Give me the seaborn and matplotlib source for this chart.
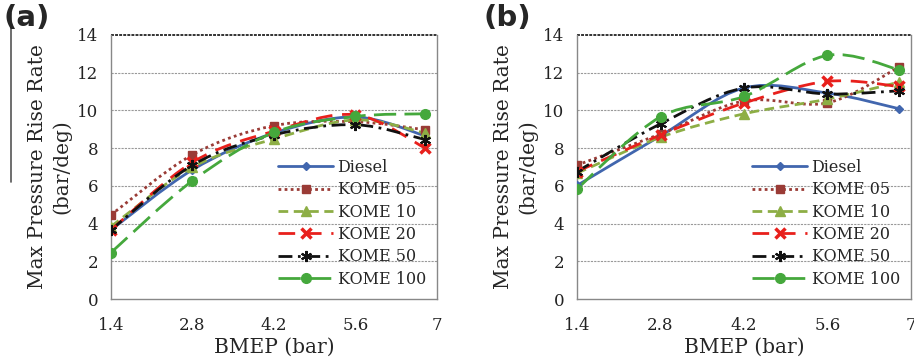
import numpy as np
import matplotlib
matplotlib.use("Agg")
import matplotlib.pyplot as plt
import seaborn as sns
from matplotlib.path import Path
from matplotlib.patches import PathPatch
from matplotlib.lines import Line2D

# data
bmep = [1.4, 2.8, 4.2, 5.6, 6.8]
fuels = ["Diesel", "KOME 05", "KOME 10", "KOME 20", "KOME 50", "KOME 100"]

rate_a_diesel = [3.66, 6.85, 8.80, 9.65, 8.65]
rate_a_kome05 = [4.46, 7.65, 9.19, 9.40, 8.97]
rate_a_kome10 = [3.84, 7.00, 8.48, 9.50, 8.80]
rate_a_kome20 = [3.66, 7.25, 8.90, 9.77, 8.00]
rate_a_kome50 = [3.66, 7.10, 8.70, 9.24, 8.45]
rate_a_kome100 = [2.46, 6.27, 8.83, 9.68, 9.82]

rate_b_diesel = [6.02, 8.65, 11.19, 10.92, 10.09]
rate_b_kome05 = [7.10, 8.75, 10.50, 10.40, 12.30]
rate_b_kome10 = [6.67, 8.58, 9.82, 10.60, 11.50]
rate_b_kome20 = [6.76, 8.70, 10.39, 11.54, 11.27]
rate_b_kome50 = [6.76, 9.29, 11.19, 10.87, 11.04]
rate_b_kome100 = [5.84, 9.66, 10.74, 12.92, 12.16]

panel_a = [rate_a_diesel, rate_a_kome05, rate_a_kome10,
           rate_a_kome20, rate_a_kome50, rate_a_kome100]
panel_b = [rate_b_diesel, rate_b_kome05, rate_b_kome10,
           rate_b_kome20, rate_b_kome50, rate_b_kome100]

# look of each series
styles = {
    "Diesel":   dict(color="#4166AE", ls="-", marker="D", ms=4.5, mew=1),
    "KOME 05":  dict(color="#9A3B36", ls=(0, (1, 1.2)), marker="s", ms=6, mew=1),
    "KOME 10":  dict(color="#8DAE45", ls=(0, (3.5, 2)), marker="^", ms=7, mew=1),
    "KOME 20":  dict(color="#E8201C", ls=(0, (6, 3.5)), marker="x", ms=7, mew=2.5),
    "KOME 50":  dict(color="#111111", ls=(0, (5, 2, 1, 2)), marker=(6, 2, 0), ms=8, mew=1.5),
    "KOME 100": dict(color="#45A83C", ls=(0, (8, 3)), marker="o", ms=7, mew=1),
}

sns.set_style("white")
plt.rcParams["font.family"] = ["DejaVu Serif"]


def smooth_path(x, y):
    # excel style smoothed line drawn as bezier segments
    pts = list(zip(x, y))
    verts = [pts[0]]
    codes = [Path.MOVETO]
    n = len(pts)
    for i in range(n - 1):
        p0 = np.array(pts[i - 1] if i > 0 else pts[i])
        p1 = np.array(pts[i])
        p2 = np.array(pts[i + 1])
        p3 = np.array(pts[i + 2] if i + 2 < n else pts[i + 1])
        c1 = p1 + (p2 - p0) / 6
        c2 = p2 - (p3 - p1) / 6
        verts += [tuple(c1), tuple(c2), tuple(p2)]
        codes += [Path.CURVE4] * 3
    return Path(verts, codes)


def draw_panel(ax, series):
    for name, vals in zip(fuels, series):
        st = styles[name]
        ax.add_patch(PathPatch(smooth_path(bmep, vals), fill=False,
                               edgecolor=st["color"], lw=2, ls=st["ls"],
                               capstyle="butt", zorder=3))
        sns.lineplot(x=bmep, y=vals, ax=ax, color=st["color"], linestyle="",
                     marker=st["marker"], markersize=st["ms"],
                     markeredgewidth=st["mew"], markeredgecolor=st["color"],
                     legend=False, zorder=4)

    ax.set_xlim(1.4, 7)
    ax.set_ylim(0, 14)
    ax.set_xticks([1.4, 2.8, 4.2, 5.6, 7])
    ax.set_xticklabels(["1.4", "2.8", "4.2", "5.6", "7"])
    ax.set_yticks(range(0, 15, 2))
    ax.tick_params(axis="both", labelsize=12, labelcolor="#222222",
                   length=5, width=1, direction="out", pad=4, color="#888888")
    ax.tick_params(axis="x", pad=8)
    for y in range(2, 13, 2):
        ax.axhline(y, color="#999999", lw=0.8, ls=(0, (2, 1)), zorder=1)
    ax.axhline(14, color="#333333", lw=1.4, ls=(0, (1.5, 0.6)), zorder=2, clip_on=False)
    for side in ["left", "right", "bottom"]:
        ax.spines[side].set_color("#888888")
        ax.spines[side].set_linewidth(1)
    ax.spines["top"].set_visible(False)

    ax.set_xlabel("BMEP (bar)", fontsize=14.5, labelpad=3)
    ax.set_ylabel("Max Pressure Rise Rate\n(bar/deg)", fontsize=14.5,
                  linespacing=1.3, labelpad=4)

    handles = [Line2D([], [], color=styles[n]["color"], lw=2, ls=styles[n]["ls"],
                      marker=styles[n]["marker"], ms=styles[n]["ms"],
                      mew=styles[n]["mew"]) for n in fuels]
    ax.legend(handles, fuels, loc="lower right", frameon=False, fontsize=11.5,
              handlelength=3.4, handletextpad=0.3, labelspacing=0.34,
              borderaxespad=0.3, bbox_to_anchor=(1.0, 0.0))


fig = plt.figure(figsize=(9.14, 3.63), dpi=100)
ax_a = fig.add_axes([0.1214, 0.1763, 0.3567, 0.7273])
ax_b = fig.add_axes([0.6313, 0.1763, 0.3654, 0.7273])

draw_panel(ax_a, panel_a)
draw_panel(ax_b, panel_b)

fig.text(0.004, 0.99, "(a)", fontsize=21, fontweight="bold", va="top",
         family="DejaVu Sans")
fig.text(0.529, 0.99, "(b)", fontsize=21, fontweight="bold", va="top",
         family="DejaVu Sans")
fig.add_artist(Line2D([0.012, 0.012], [0.965, 0.5], color="#555555", lw=1.2,
                      transform=fig.transFigure))

fig.savefig("out.png", dpi=100)
